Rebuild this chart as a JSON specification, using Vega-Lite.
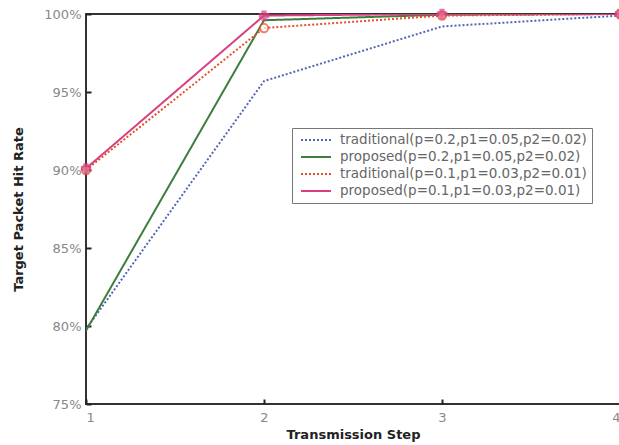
{
  "$schema": "https://vega.github.io/schema/vega-lite/v6.json",
  "autosize": "none",
  "width": 534,
  "height": 390,
  "padding": {"left": 86, "top": 14, "right": 0, "bottom": 41},
  "background": "white",
  "config": {
    "view": {"stroke": "#333", "strokeWidth": 2},
    "font": "DejaVu Sans"
  },
  "data": {
    "values": [
      {"step": 1, "rate": 0.798, "series": "traditional(p=0.2,p1=0.05,p2=0.02)"},
      {"step": 2, "rate": 0.957, "series": "traditional(p=0.2,p1=0.05,p2=0.02)"},
      {"step": 3, "rate": 0.992, "series": "traditional(p=0.2,p1=0.05,p2=0.02)"},
      {"step": 4, "rate": 0.999, "series": "traditional(p=0.2,p1=0.05,p2=0.02)"},
      {"step": 1, "rate": 0.797, "series": "proposed(p=0.2,p1=0.05,p2=0.02)"},
      {"step": 2, "rate": 0.996, "series": "proposed(p=0.2,p1=0.05,p2=0.02)"},
      {"step": 3, "rate": 0.9995, "series": "proposed(p=0.2,p1=0.05,p2=0.02)"},
      {"step": 4, "rate": 1.0, "series": "proposed(p=0.2,p1=0.05,p2=0.02)"},
      {"step": 1, "rate": 0.900, "series": "traditional(p=0.1,p1=0.03,p2=0.01)"},
      {"step": 2, "rate": 0.991, "series": "traditional(p=0.1,p1=0.03,p2=0.01)"},
      {"step": 3, "rate": 0.999, "series": "traditional(p=0.1,p1=0.03,p2=0.01)"},
      {"step": 4, "rate": 1.0, "series": "traditional(p=0.1,p1=0.03,p2=0.01)"},
      {"step": 1, "rate": 0.901, "series": "proposed(p=0.1,p1=0.03,p2=0.01)"},
      {"step": 2, "rate": 0.999, "series": "proposed(p=0.1,p1=0.03,p2=0.01)"},
      {"step": 3, "rate": 1.0, "series": "proposed(p=0.1,p1=0.03,p2=0.01)"},
      {"step": 4, "rate": 1.0, "series": "proposed(p=0.1,p1=0.03,p2=0.01)"}
    ]
  },
  "layer": [
    {
      "mark": {"type": "line", "strokeWidth": 2, "clip": true},
      "encoding": {
        "x": {
          "field": "step", "type": "quantitative",
          "scale": {"domain": [1, 4], "nice": false},
          "axis": {
            "values": [1, 2, 3, 4], "format": "d", "grid": false, "domain": false,
            "tickSize": -5, "tickColor": "#222", "tickWidth": 2,
            "labelPadding": 12, "labelColor": "#888", "labelFontSize": 13,
            "title": "Transmission  Step", "titleFontSize": 13, "titleFontWeight": "bold",
            "titleColor": "#222", "titlePadding": 4
          }
        },
        "y": {
          "field": "rate", "type": "quantitative",
          "scale": {"domain": [0.75, 1.0], "nice": false, "zero": false},
          "axis": {
            "values": [0.75, 0.8, 0.85, 0.9, 0.95, 1.0], "format": ".0%", "grid": false, "domain": false,
            "tickSize": -5, "tickColor": "#222", "tickWidth": 2,
            "labelPadding": 10, "labelColor": "#888", "labelFontSize": 13,
            "title": "Target Packet Hit Rate", "titleFontSize": 13, "titleFontWeight": "bold",
            "titleColor": "#222", "titlePadding": 18
          }
        },
        "color": {
          "field": "series", "type": "nominal",
          "sort": ["traditional(p=0.2,p1=0.05,p2=0.02)", "proposed(p=0.2,p1=0.05,p2=0.02)", "traditional(p=0.1,p1=0.03,p2=0.01)", "proposed(p=0.1,p1=0.03,p2=0.01)"],
          "scale": {
            "domain": ["traditional(p=0.2,p1=0.05,p2=0.02)", "proposed(p=0.2,p1=0.05,p2=0.02)", "traditional(p=0.1,p1=0.03,p2=0.01)", "proposed(p=0.1,p1=0.03,p2=0.01)"],
            "range": ["#5565b5", "#3d7d3d", "#e85028", "#d84080"]
          },
          "legend": {
            "title": null, "orient": "none", "legendX": 206, "legendY": 114,
            "symbolType": "M-2.5,0H2.5", "symbolSize": 144, "symbolStrokeWidth": 2,
            "symbolOffset": 12,
            "labelFontSize": 13.5, "labelColor": "#666", "rowPadding": 3, "labelOffset": 17,
            "strokeColor": "#777", "padding": 5, "fillColor": "white", "labelLimit": 400
          }
        },
        "strokeDash": {
          "field": "series", "type": "nominal",
          "sort": ["traditional(p=0.2,p1=0.05,p2=0.02)", "proposed(p=0.2,p1=0.05,p2=0.02)", "traditional(p=0.1,p1=0.03,p2=0.01)", "proposed(p=0.1,p1=0.03,p2=0.01)"],
          "scale": {
            "domain": ["traditional(p=0.2,p1=0.05,p2=0.02)", "proposed(p=0.2,p1=0.05,p2=0.02)", "traditional(p=0.1,p1=0.03,p2=0.01)", "proposed(p=0.1,p1=0.03,p2=0.01)"],
            "range": [[2, 2], [1, 0], [2, 2], [1, 0]]
          },
          "legend": null
        }
      }
    },
    {
      "transform": [{"filter": "indexof(datum.series, 'p=0.1') >= 0"}],
      "mark": {"type": "point", "size": 70, "strokeWidth": 2, "clip": false},
      "encoding": {
        "x": {"field": "step", "type": "quantitative"},
        "y": {"field": "rate", "type": "quantitative"},
        "color": {"field": "series", "type": "nominal", "legend": null},
        "shape": {
          "field": "series", "type": "nominal",
          "scale": {"domain": ["traditional(p=0.1,p1=0.03,p2=0.01)", "proposed(p=0.1,p1=0.03,p2=0.01)"], "range": ["circle", "cross"]},
          "legend": null
        },
        "fill": {
          "field": "series", "type": "nominal",
          "scale": {"domain": ["traditional(p=0.1,p1=0.03,p2=0.01)", "proposed(p=0.1,p1=0.03,p2=0.01)"], "range": ["white", "#d84080"]},
          "legend": null
        },
        "fillOpacity": {"value": 1}
      }
    }
  ]
}
